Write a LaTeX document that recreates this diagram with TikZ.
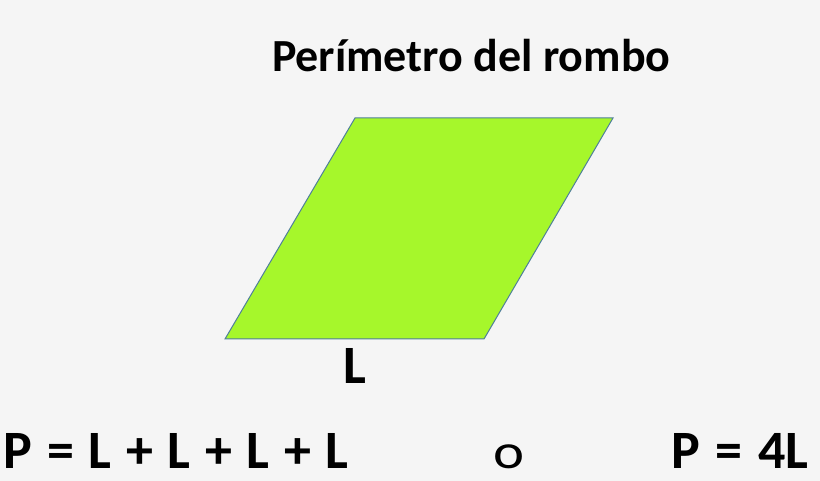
\documentclass[tikz,border=0pt]{standalone}
\usepackage{fontspec}
\setmainfont{Carlito}
\definecolor{bg}{HTML}{F5F5F5}
\definecolor{rfill}{HTML}{A6F72B}
\definecolor{redge}{HTML}{4F7F9A}
\newcommand\wgap{\hspace{14.6pt}}
\begin{document}
\begin{tikzpicture}[x=1pt,y=-1pt,
  lbl/.style={inner sep=0pt,outer sep=0pt,anchor=base west,text=black},
  big/.style={lbl,font=\fontsize{54}{60}\selectfont\bfseries},
  ttl/.style={lbl,font=\fontsize{46}{52}\selectfont\bfseries}]
\fill[bg] (0,0) rectangle (820,481);
\useasboundingbox (0,0) rectangle (820,481);
\coordinate (tl) at (355,118);
\coordinate (tr) at (613,118);
\coordinate (br) at (484,339);
\coordinate (bl) at (225,339);
\filldraw[fill=rfill,draw=redge,line width=1pt,line join=miter] (tl) -- (tr) -- (br) -- (bl) -- cycle;
\node[ttl] (title) at (272,72) {Perímetro del rombo};
\node[big] (lside) at (343,383) {L};
\node[big] (sum) at (4,468) {P\wgap=\wgap L\wgap+\wgap L\wgap+\wgap L\wgap+\wgap L};
\node[lbl,font=\fontsize{49}{56}\selectfont] (or) at (493,468) {\scalebox{1.2}[1]{o}};
\node[big] (four) at (671,468) {P\hspace{16pt}=\hspace{16pt}4L};
\end{tikzpicture}
\end{document}
